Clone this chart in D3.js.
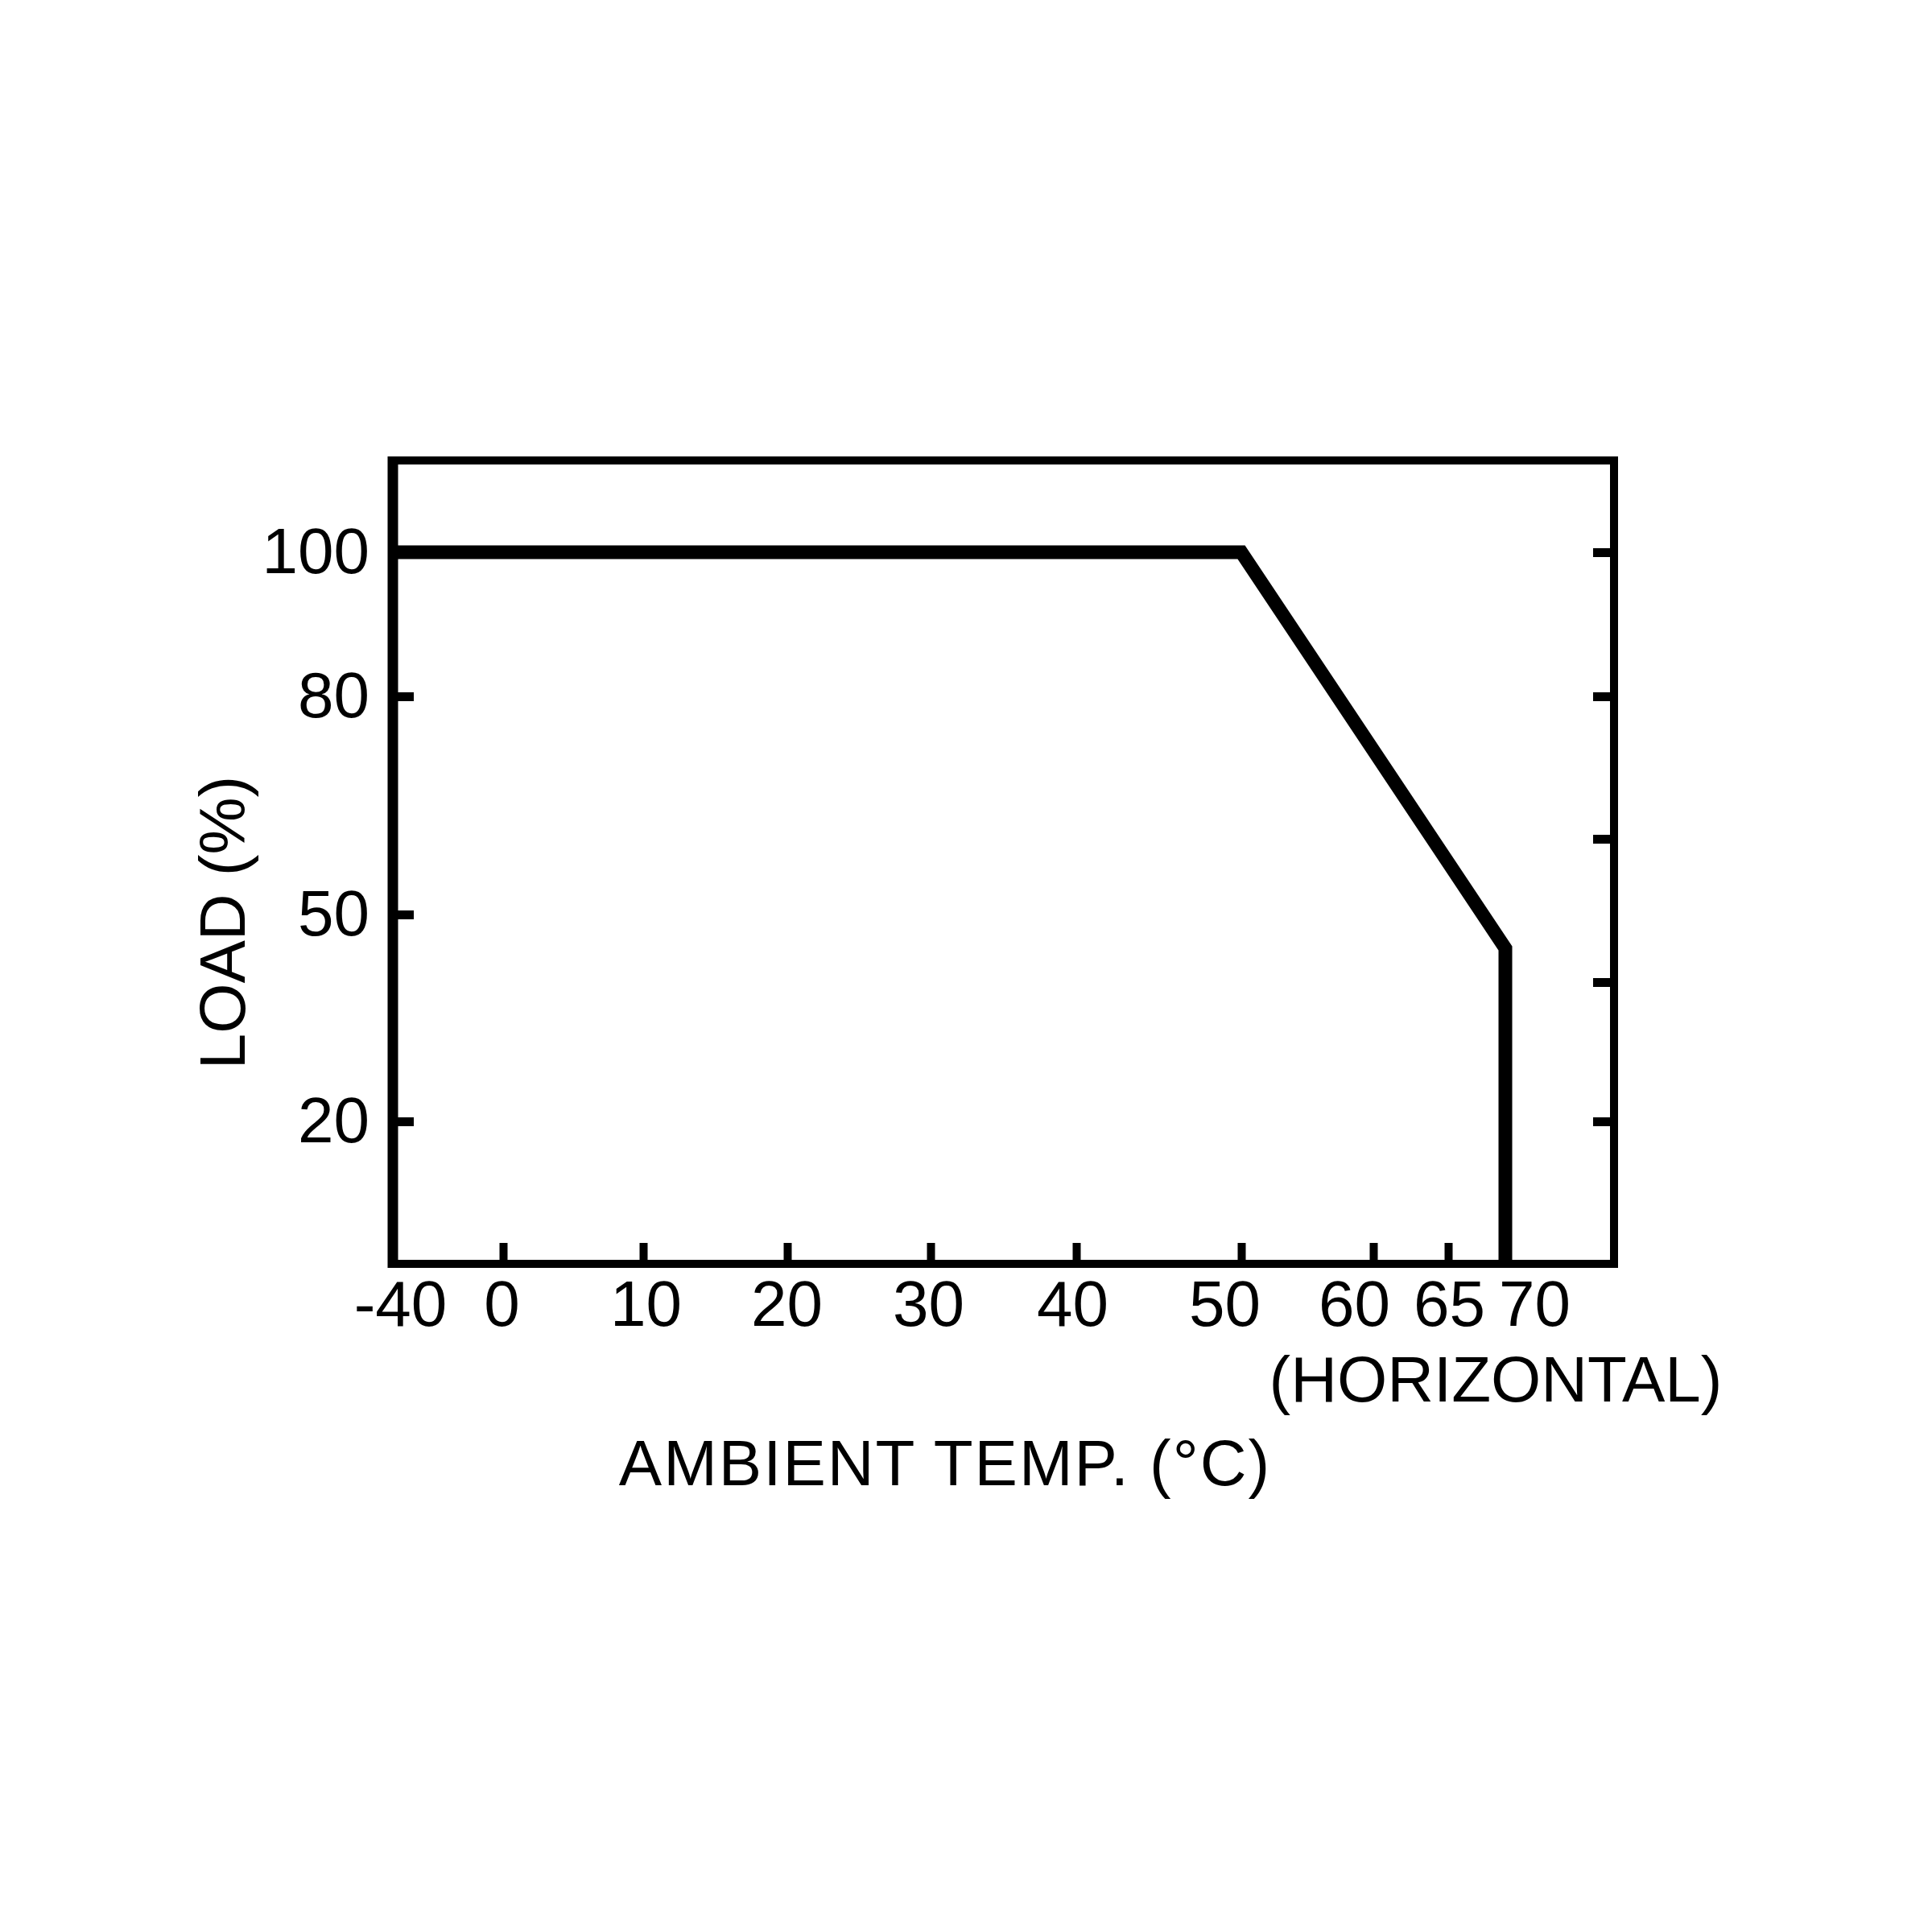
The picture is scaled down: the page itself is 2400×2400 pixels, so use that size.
<!DOCTYPE html>
<html>
<head>
<meta charset="utf-8">
<script src="https://cdn.jsdelivr.net/npm/d3@7"></script>
<style>
  html, body { margin: 0; padding: 0; background: #fff; }
  svg text { font-family: "Liberation Sans", Arial, Helvetica, sans-serif; fill: #000; }
</style>
</head>
<body>
<svg id="chart" width="2400" height="2400"></svg>
<script>
// ---- data ----
const xTickValues = [-40, 0, 10, 20, 30, 40, 50, 60, 65, 70];
const xTickLabels = ["-40", "0", "10", "20", "30", "40", "50", "60", "65", "70"];
const yLeftTickValues = [20, 50, 80, 100];
const yLeftTickLabels = ["20", "50", "80", "100"];
const yRightTickValues = [20, 40, 60, 80, 100];
const curveTemp = [-40, 50, 70, 70];
const curveLoad = [100, 100, 45, 0];
const xTitle = "AMBIENT TEMP. (°C)";
const xSubTitle = "(HORIZONTAL)";
const yTitle = "LOAD (%)";

// ---- layout ----
const W = 2400, H = 2400;
const plotLeft = 488, plotRight = 2005, plotTop = 572, plotBottom = 1570;
const FONT = 80;
const svg = d3.select("#chart");
svg.append("rect").attr("width", W).attr("height", H).attr("fill", "#fff");

// hand-drawn, non-uniform axes: piecewise linear scales
const xDomain = [-40, 0, 10, 20, 30, 40, 50, 60, 65, 70, 79.5];
const xRange  = [plotLeft, 625, 799, 978, 1156, 1337, 1542, 1706, 1799, 1870, plotRight];
const x = d3.scaleLinear().domain(xDomain).range(xRange);

const yDomain = [0, 20, 40, 50, 60, 80, 100, 113];
const yRange  = [plotBottom, 1393, 1220, 1136, 1042, 865, 686, plotTop];
const y = d3.scaleLinear().domain(yDomain).range(yRange);

const tickLen = 26;

// bottom axis
const gx = svg.append("g").attr("transform", `translate(0,${plotBottom})`)
  .call(d3.axisBottom(x).tickValues(xTickValues)
        .tickFormat((d, i) => xTickLabels[i])
        .tickSizeInner(-tickLen).tickSizeOuter(0).tickPadding(20));
gx.select(".domain").remove();
gx.selectAll(".tick line").attr("stroke", "#000").attr("stroke-width", 10);
gx.selectAll(".tick text").attr("font-size", FONT).attr("font-family", null);
const xLabelNudge = {"-40": 9, "0": -2, "10": 3, "20": -1, "30": -3, "40": -5, "50": -21, "60": -24, "65": 1, "70": 36};
gx.selectAll(".tick text").attr("dx", (d, i) => xLabelNudge[xTickLabels[i]] || 0);
gx.selectAll(".tick").filter(d => d === -40 || d === 70).select("line").remove();

// left axis
const gyl = svg.append("g").attr("transform", `translate(${plotLeft},0)`)
  .call(d3.axisLeft(y).tickValues(yLeftTickValues)
        .tickFormat((d, i) => yLeftTickLabels[i])
        .tickSizeInner(-tickLen).tickSizeOuter(0).tickPadding(29));
gyl.select(".domain").remove();
gyl.selectAll(".tick line").attr("stroke", "#000").attr("stroke-width", 11);
gyl.selectAll(".tick text").attr("font-size", FONT).attr("font-family", null);

// right axis (ticks only)
const gyr = svg.append("g").attr("transform", `translate(${plotRight},0)`)
  .call(d3.axisRight(y).tickValues(yRightTickValues)
        .tickFormat("").tickSizeInner(-tickLen).tickSizeOuter(0));
gyr.select(".domain").remove();
gyr.selectAll(".tick line").attr("stroke", "#000").attr("stroke-width", 11);

// frame
svg.append("rect")
  .attr("x", plotLeft).attr("y", plotTop)
  .attr("width", plotRight - plotLeft).attr("height", plotBottom - plotTop)
  .attr("fill", "none").attr("stroke", "#000").attr("stroke-width", 10);
svg.append("line")
  .attr("x1", plotLeft).attr("x2", plotLeft).attr("y1", plotTop - 5).attr("y2", plotBottom + 5)
  .attr("stroke", "#000").attr("stroke-width", 13);

// derating curve
const pts = curveTemp.map((t, i) => [t, curveLoad[i]]);
svg.append("path")
  .attr("d", d3.line().x(d => x(d[0])).y(d => y(d[1]))(pts))
  .attr("fill", "none").attr("stroke", "#000").attr("stroke-width", 17)
  .attr("stroke-linejoin", "miter");

// titles
svg.append("text").attr("x", 1858).attr("y", 1741)
  .attr("text-anchor", "middle").attr("font-size", FONT).text(xSubTitle);
svg.append("text").attr("x", 1174).attr("y", 1845)
  .attr("text-anchor", "middle").attr("font-size", FONT)
  .attr("letter-spacing", 2).text(xTitle);
svg.append("text")
  .attr("transform", `translate(304,1146) rotate(-90)`)
  .attr("text-anchor", "middle").attr("font-size", FONT).text(yTitle);
</script>
</body>
</html>
